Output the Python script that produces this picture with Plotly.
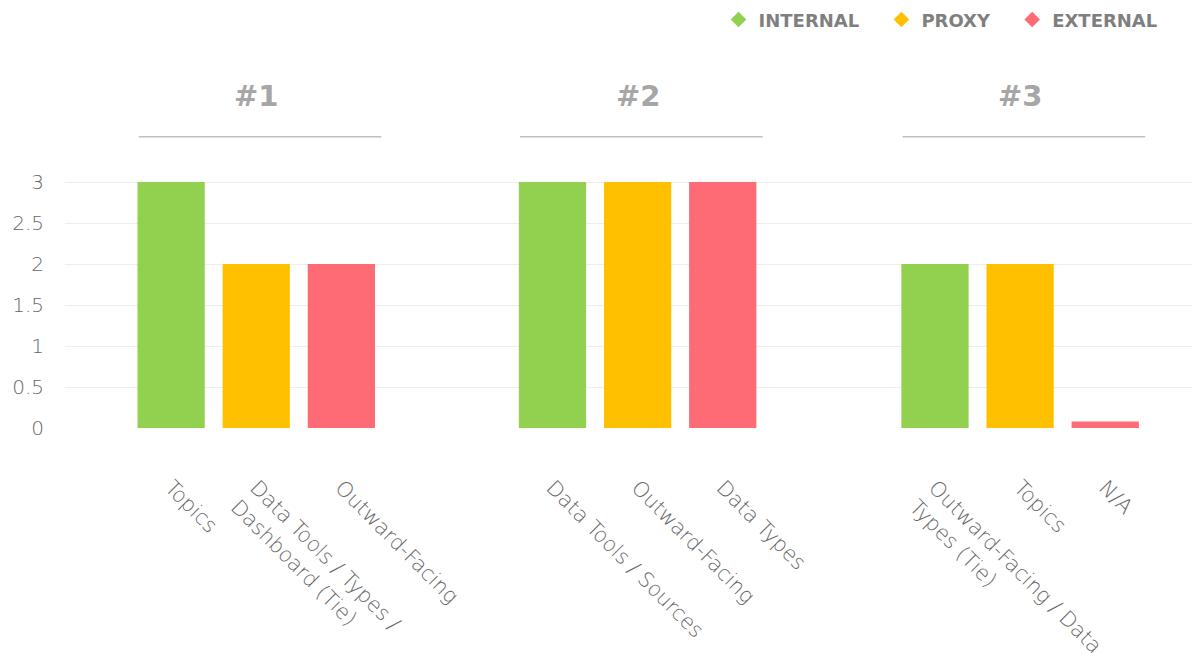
import plotly.graph_objects as go

groups = ["#1", "#2", "#3"]
labels = [
    ["Topics", "Data Tools / Types /<br>Dashboard (Tie)", "Outward-Facing"],
    ["Data Tools / Sources", "Outward-Facing", "Data Types"],
    ["Outward-Facing / Data<br>Types (Tie)", "Topics", "N/A"],
]
values = [
    [3, 2, 2],
    [3, 3, 3],
    [2, 2, 0.08],
]
series = ["INTERNAL", "PROXY", "EXTERNAL"]
colors = ["#92d050", "#ffc000", "#ff6b74"]

grey = "#666666"
font = "DejaVu Sans"
bold = "DejaVu Sans"

fig = go.Figure()

# invisible trace so the full-width base subplot (and its grid) is drawn
fig.add_trace(go.Scatter(x=[0, 1], y=[0, 0], mode="lines", showlegend=False,
                         line=dict(width=0), hoverinfo="skip"))

domains = [[0.056, 0.281], [0.392, 0.617], [0.729, 0.954]]
for i, g in enumerate(groups):
    ax = "x%d" % (i + 2)
    fig.add_trace(go.Bar(
        x=labels[i], y=values[i], marker_color=colors, marker_line_width=0,
        xaxis=ax, yaxis="y", showlegend=False, hoverinfo="x+y"))
    fig.layout["xaxis%d" % (i + 2)] = dict(
        domain=domains[i], anchor="y", type="category", tickangle=45,
        showgrid=False, zeroline=False, showline=False, automargin=False,
        ticks="outside", ticklen=38, tickcolor="rgba(0,0,0,0)",
        tickfont=dict(family=font, size=21, color=grey, weight=200))
    fig.add_annotation(text="<b>%s</b>" % g, xref=ax + " domain", x=0.5,
                       yref="paper", y=1.157, yanchor="middle", showarrow=False,
                       font=dict(family=bold, size=29, color="#a6a6a6"))
    fig.add_shape(type="line", xref=ax + " domain", x0=0.04, x1=0.99,
                  yref="paper", y0=1.015, y1=1.015,
                  line=dict(color="#bfbfbf", width=1.5))

# legend entries with diamond markers
pad = ["\u00a0\u00a0\u00a0", "\u00a0\u00a0\u00a0", ""]
for s, c, p in zip(series, colors, pad):
    fig.add_trace(go.Scatter(x=[None], y=[None], mode="markers",
                             name="<b>%s</b>%s" % (s, p),
                             marker=dict(symbol="diamond", size=12, color=c),
                             xaxis="x2", yaxis="y"))

fig.update_layout(
    width=1192, height=656,
    margin=dict(l=57, r=0, t=133, b=236),
    paper_bgcolor="white", plot_bgcolor="white",
    bargap=0.21,
    xaxis=dict(domain=[0, 1], visible=False, range=[0, 1], automargin=False),
    yaxis=dict(range=[0, 3.5], tickvals=[0, 0.5, 1, 1.5, 2, 2.5, 3, 3.5],
               ticktext=["0", "0.5", "1", "1.5", "2", "2.5", "3", ""],
               showgrid=True, gridcolor="#eeeeee", gridwidth=1,
               zeroline=False, showline=False, automargin=False,
               ticks="outside", ticklen=16, tickcolor="rgba(0,0,0,0)",
               tickfont=dict(family=font, size=20, color=grey, weight=200)),
    legend=dict(orientation="h", x=0.967, xanchor="right",
                yref="container", y=0.982, yanchor="middle",
                font=dict(family=bold, size=18, color="#7f7f7f"),
                itemwidth=30, tracegroupgap=0),
)

fig.write_html("out.html")
